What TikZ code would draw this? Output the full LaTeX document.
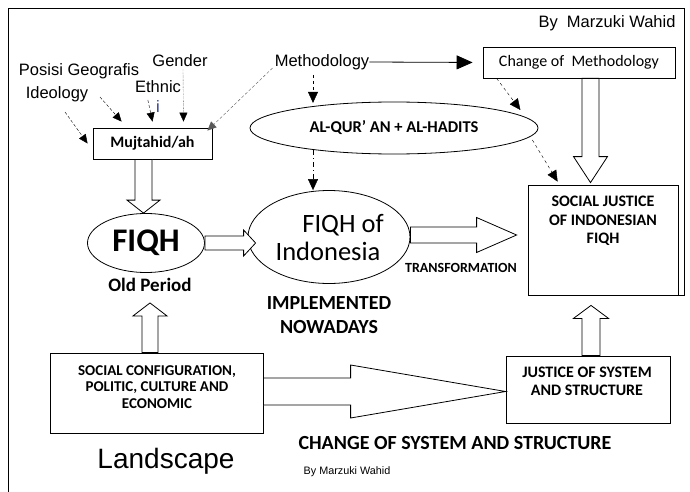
\documentclass[tikz,border=0pt]{standalone}
\usepackage{fontspec}
\newfontfamily\calibri{Carlito}
\newfontfamily\arialfont{Liberation Sans}
\usetikzlibrary{arrows.meta,calc,shapes.geometric}

\definecolor{ibl}{RGB}{40,60,150}

% hollow block arrows: start, tip, shaft half width, head half width, head length
\newcommand{\vblock}[5]{%
  \draw[hollow] let \p1=(#1), \p2=(#2), \n1={sign(\y1-\y2)} in
    (\x1-#3pt,\y1) -- (\x1-#3pt,\y2+\n1*#5pt) -- (\x1-#4pt,\y2+\n1*#5pt)
    -- (\x1,\y2) -- (\x1+#4pt,\y2+\n1*#5pt) -- (\x1+#3pt,\y2+\n1*#5pt)
    -- (\x1+#3pt,\y1) -- cycle;}
\newcommand{\hblock}[5]{%
  \draw[hollow] let \p1=(#1), \p2=(#2), \n1={sign(\x1-\x2)} in
    (\x1,\y1+#3pt) -- (\x2+\n1*#5pt,\y1+#3pt) -- (\x2+\n1*#5pt,\y1+#4pt)
    -- (\x2,\y1) -- (\x2+\n1*#5pt,\y1-#4pt) -- (\x2+\n1*#5pt,\y1-#3pt)
    -- (\x1,\y1-#3pt) -- cycle;}

\tikzset{
  box/.style={draw, line width=0.8pt, inner sep=0pt},
  oval/.style={ellipse, draw, line width=0.8pt, inner sep=0pt},
  borderline/.style={draw, line width=0.8pt},
  hollow/.style={draw, fill=white, line width=0.8pt},
  sanslabel/.style={font=\arialfont\fontsize{16.5}{20}\selectfont, inner sep=0pt, align=center},
  boldtext/.style args={#1/#2}{font=\calibri\bfseries\fontsize{#1}{#2}\selectfont, inner sep=0pt, align=center},
  smalltip/.style={-{Triangle[length=9pt,width=8pt]}},
  midtip/.style={-{Triangle[length=11pt,width=10pt]}},
}

\begin{document}
\begin{tikzpicture}[x=1pt,y=-1pt]
        \useasboundingbox (0,0) rectangle (690,492);
        % Frame
        \draw[borderline] (8,492) -- (8,8) -- (684,8) -- (684,295) -- (678,295);

        % Nodes
        \node (credit) [sanslabel] at (607,23) {By\ \ Marzuki Wahid};
        \node (gender) [sanslabel] at (180,61) {Gender};
        \node (posisi) [sanslabel] at (79,71) {Posisi Geografis};
        \node (ideology) [sanslabel] at (57,94) {Ideology};
        \node (ethnic) [sanslabel] at (158,97) {Ethnic\\{\color{ibl}i}};
        \node (method) [sanslabel] at (322,62) {Methodology};
        \node (change) [box, minimum width=192, minimum height=31, font=\calibri\fontsize{16}{19}\selectfont] at (579,62.5) {Change of\ \ Methodology};
        \node (mujtahid) [box, boldtext=16/19, minimum width=119, minimum height=31] at (152.5,143.5) {Mujtahid/ah};
        \node (quran) [oval, boldtext=16.5/19, minimum width=288, minimum height=52] at (394,128) {AL-QUR’ AN + AL-HADITS};
        \node (fiqh) [oval, boldtext=33/36, minimum width=117, minimum height=59] at (146,243) {FIQH};
        \node (oldperiod) [boldtext=19/22] at (150,285) {Old Period};
        \node (fiqhindo) [oval, minimum width=162, minimum height=93] at (329,237) {};
        \node (fiqhindotext) [inner sep=0pt, align=center, font=\calibri\fontsize{26.5}{28}\selectfont] at (328,238) {\hspace*{30pt}FIQH of\\Indonesia};
        \node (transform) [boldtext=14/16] at (461,268) {TRANSFORMATION};
        \node (socjust) [box, minimum width=150, minimum height=110] at (603,240) {};
        \node (socjusttext) [boldtext=16/18.5] at (603,221) {SOCIAL JUSTICE\\OF INDONESIAN\\FIQH};
        \node (implemented) [boldtext=20/24] at (329,315) {IMPLEMENTED\\NOWADAYS};
        \node (config) [box, minimum width=213, minimum height=80] at (156.5,393) {};
        \node (configtext) [boldtext=15/16.5] at (157,387) {SOCIAL CONFIGURATION,\\POLITIC, CULTURE AND\\ECONOMIC};
        \node (justice) [box, minimum width=164, minimum height=67] at (588,389.5) {};
        \node (justicetext) [boldtext=16/18] at (587,381) {JUSTICE OF SYSTEM\\AND STRUCTURE};
        \node (changesys) [boldtext=20/24] at (455,443) {CHANGE OF SYSTEM AND STRUCTURE};
        \node (landscape) [inner sep=0pt, font=\arialfont\fontsize{28}{32}\selectfont] at (166,461) {Landscape};
        \node (smallcredit) [inner sep=0pt, font=\arialfont\fontsize{10.8}{13}\selectfont] at (347,472) {By Marzuki Wahid};

        % Edges
        \draw[line width=0.8pt, -{Triangle[length=16pt,width=14pt]}, shorten >=10pt] (method.east) -- (change.west);
        \draw[dashed, midtip] (method.south) ++(-9,5) -- ++(0,28);
        \draw[gray!70!black, dash pattern=on 3pt off 2pt, smalltip] ($(method.west)+(-2,6)$) -- ($(mujtahid.north east)+(-5,3)$);
        \draw[densely dotted, smalltip] ($(gender.south)+(3,2)$) -- ($(mujtahid.north)+(31,-6)$);
        \draw[dash pattern=on 3pt off 2pt, smalltip] ($(ethnic.west)+(13,3)$) -- ($(mujtahid.north)+(0,-6)$);
        \draw[dash pattern=on 3pt off 2pt, smalltip] ($(posisi.center)+(21,26)$) -- ($(mujtahid.north west)+(29,-6)$);
        \draw[dash pattern=on 3pt off 2pt, smalltip] ($(ideology.center)+(8,18)$) -- ($(mujtahid.west)+(-5,0)$);
        \draw[dash pattern=on 5pt off 3pt on 1pt off 3pt, midtip] ($(quran.south)+(-81,-4)$) -- ($(fiqhindo.north)+(-16,0)$);
        \draw[dashed, midtip] ($(change.south west)+(14,0)$) -- ($(quran.east)+(-18,-18)$);
        \draw[dashed, midtip] ($(quran.east)+(-6,12)$) -- ($(socjust.north west)+(30,-3)$);

        % Block arrows
        \vblock{$(mujtahid.south)+(-9,0)$}{fiqh.north}{8.5}{16.5}{13}
        \vblock{$(change.south)+(11.5,0)$}{$(socjust.north)+(0,-2)$}{8.5}{17}{26}
        \vblock{$(config.north)+(-6.5,0)$}{$(oldperiod.south)+(0,11)$}{8}{17}{13}
        \vblock{$(justice.north)+(3,0)$}{$(socjust.south)+(0,10)$}{9}{17.5}{13}
        \hblock{fiqh.east}{$(fiqhindo.west)+(8,0)$}{7}{13}{12}
        \hblock{$(fiqhindo.east)+(0,-2)$}{$(socjust.west)+(-11,0)$}{8}{17.5}{40}
        \hblock{$(config.east)+(0,-1.5)$}{justice.west}{13.5}{26.5}{155}

    \end{tikzpicture}
\end{document}
